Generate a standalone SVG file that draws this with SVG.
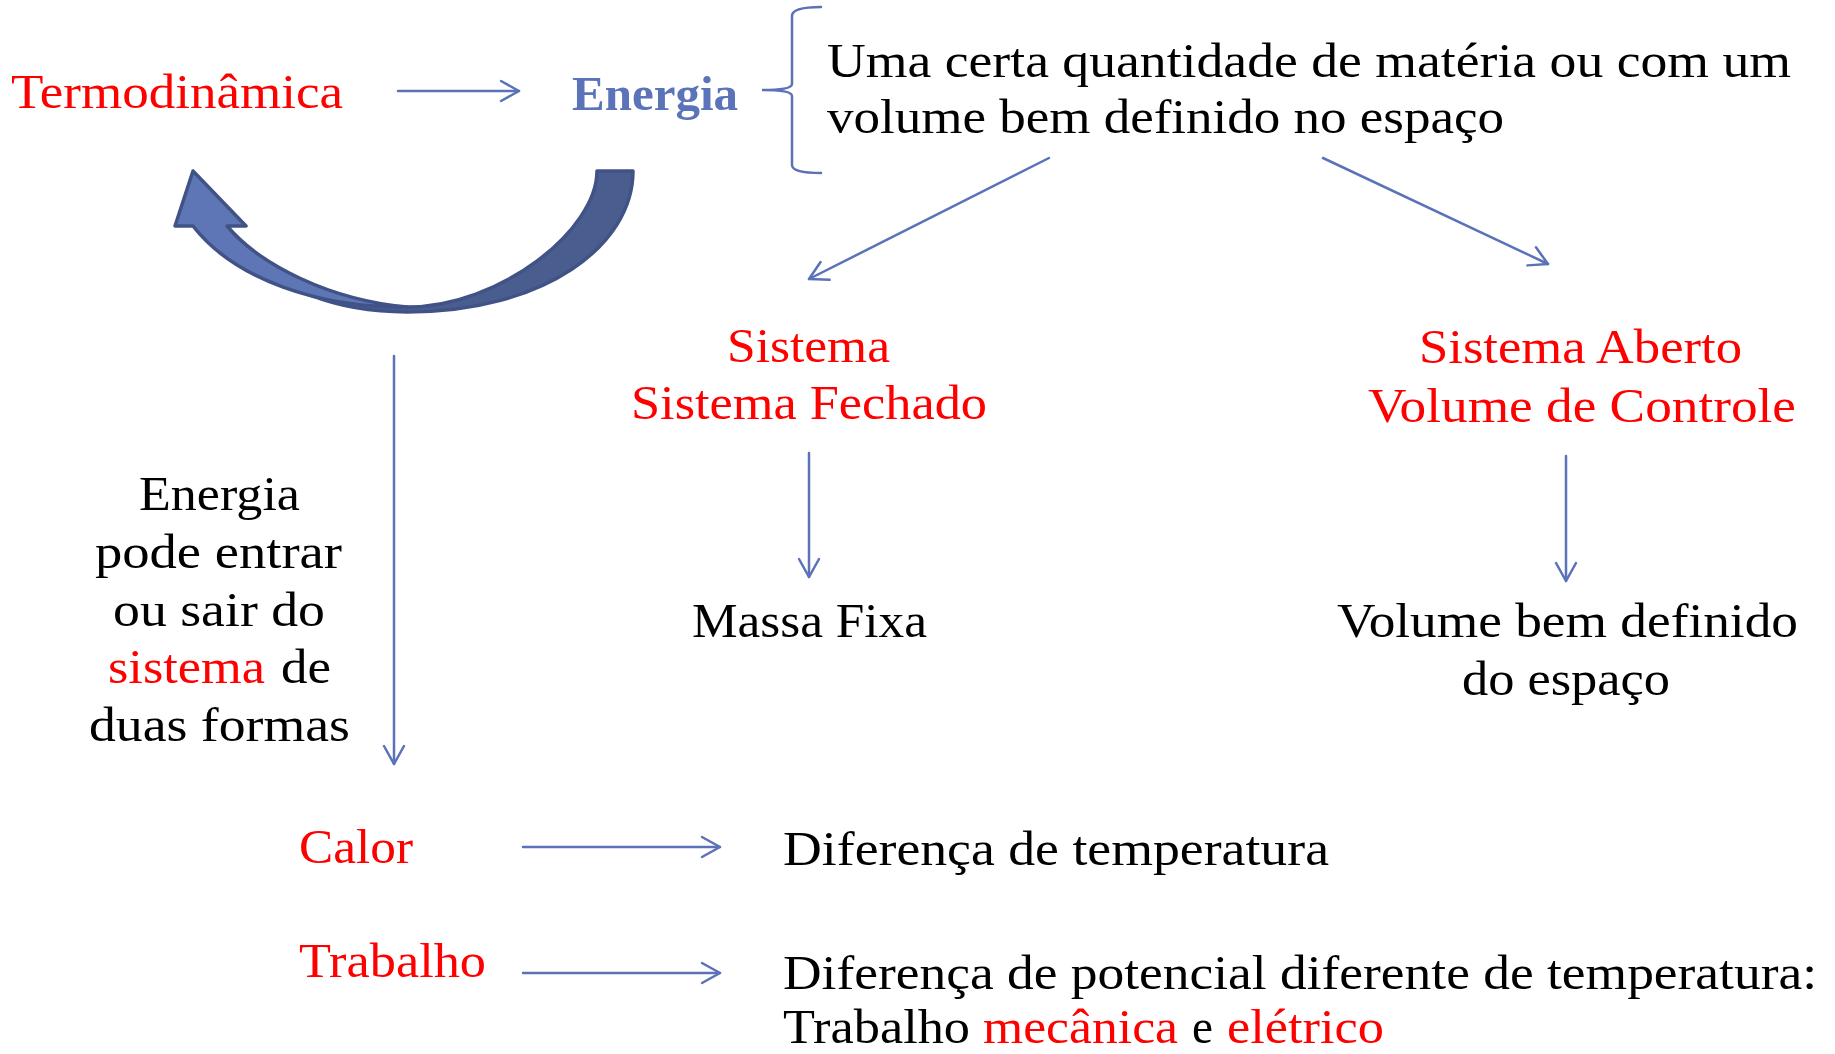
<svg xmlns="http://www.w3.org/2000/svg" width="1835" height="1054" viewBox="0 0 1835 1054">
<defs>
<style>
text{font-family:"Liberation Serif","Times New Roman",serif;font-size:49px;fill:#000}
.r{fill:#FF0000}
.b{fill:#5B73B8;font-weight:bold}
.ln{stroke:#5B72B8;stroke-width:2.5;fill:none;stroke-linecap:round}
</style>
<marker id="ah" viewBox="-20 -12 22 24" markerWidth="22" markerHeight="24" refX="0" refY="0" markerUnits="userSpaceOnUse" orient="auto">
<path d="M-18,-10 L0,0 L-18,10" fill="none" stroke="#5B72B8" stroke-width="2.5" stroke-linecap="round" stroke-linejoin="round"/>
</marker>
</defs>
<rect width="1835" height="1054" fill="#fff"/>

<g id="connectors">
<line class="ln" x1="398" y1="91" x2="519" y2="91" marker-end="url(#ah)"/>
<line class="ln" x1="1049" y1="158" x2="809" y2="279" marker-end="url(#ah)"/>
<line class="ln" x1="1323" y1="158" x2="1548" y2="264" marker-end="url(#ah)"/>
<line class="ln" x1="394" y1="356" x2="394" y2="764" marker-end="url(#ah)"/>
<line class="ln" x1="809" y1="453" x2="809" y2="577" marker-end="url(#ah)"/>
<line class="ln" x1="1566" y1="456" x2="1566" y2="581" marker-end="url(#ah)"/>
<line class="ln" x1="523" y1="847" x2="720" y2="847" marker-end="url(#ah)"/>
<line class="ln" x1="523" y1="973" x2="720" y2="973" marker-end="url(#ah)"/>
<path class="ln" d="M821,7 Q792,7 792,16 L792,84 Q792,90 762,90 Q792,90 792,96 L792,165 Q792,173 821,173"/>
</g>

<g id="curved-arrow">
<path d="M597,171 L633,171 C633,245 545,312 407,312 C365,312 335,305 310,295 C340,303 370,307 407,307 C500,307 597,230 597,171 Z" fill="#4A5D8F" stroke="#415386" stroke-width="3.5" stroke-linejoin="round"/>
<path d="M193,226 L175,226 L193,171 L246,226 L227,226 C260,265 330,300 407,307 C320,308 235,280 193,226 Z" fill="#5F76B6" stroke="#415386" stroke-width="3.5" stroke-linejoin="round"/>
</g>

<g id="termodinamica"><text class="r" x="11" y="108" textLength="332" lengthAdjust="spacingAndGlyphs">Termodinâmica</text></g>
<g id="energia"><text class="b" x="572" y="110" textLength="166" lengthAdjust="spacingAndGlyphs">Energia</text></g>
<g id="definicao">
<text x="827" y="77" textLength="964" lengthAdjust="spacingAndGlyphs">Uma certa quantidade de matéria ou com um</text>
<text x="827" y="133" textLength="677" lengthAdjust="spacingAndGlyphs">volume bem definido no espaço</text>
</g>
<g id="sistema-fechado">
<text class="r" x="727" y="362" textLength="163" lengthAdjust="spacingAndGlyphs">Sistema</text>
<text class="r" x="631" y="419" textLength="356" lengthAdjust="spacingAndGlyphs">Sistema Fechado</text>
</g>
<g id="sistema-aberto">
<text class="r" x="1419" y="363" textLength="323" lengthAdjust="spacingAndGlyphs">Sistema Aberto</text>
<text class="r" x="1368" y="422" textLength="428" lengthAdjust="spacingAndGlyphs">Volume de Controle</text>
</g>
<g id="massa-fixa"><text x="692" y="637" textLength="235" lengthAdjust="spacingAndGlyphs">Massa Fixa</text></g>
<g id="volume-definido">
<text x="1337" y="637" textLength="461" lengthAdjust="spacingAndGlyphs">Volume bem definido</text>
<text x="1462" y="695" textLength="208" lengthAdjust="spacingAndGlyphs">do espaço</text>
</g>
<g id="energia-formas">
<text x="139" y="510" textLength="161" lengthAdjust="spacingAndGlyphs">Energia</text>
<text x="95" y="568" textLength="247" lengthAdjust="spacingAndGlyphs">pode entrar</text>
<text x="113" y="626" textLength="212" lengthAdjust="spacingAndGlyphs">ou sair do</text>
<text class="r" x="108" y="683" textLength="157" lengthAdjust="spacingAndGlyphs">sistema</text>
<text x="281" y="683" textLength="50" lengthAdjust="spacingAndGlyphs">de</text>
<text x="89" y="741" textLength="261" lengthAdjust="spacingAndGlyphs">duas formas</text>
</g>
<g id="calor"><text class="r" x="299" y="863" textLength="114" lengthAdjust="spacingAndGlyphs">Calor</text></g>
<g id="trabalho"><text class="r" x="299" y="977" textLength="187" lengthAdjust="spacingAndGlyphs">Trabalho</text></g>
<g id="dif-temperatura"><text x="783" y="865" textLength="546" lengthAdjust="spacingAndGlyphs">Diferença de temperatura</text></g>
<g id="dif-potencial">
<text x="783" y="989" textLength="1034" lengthAdjust="spacingAndGlyphs">Diferença de potencial diferente de temperatura:</text>
<text x="783" y="1043" textLength="187" lengthAdjust="spacingAndGlyphs">Trabalho</text>
<text class="r" x="983" y="1043" textLength="195" lengthAdjust="spacingAndGlyphs">mecânica</text>
<text x="1192" y="1043" textLength="21" lengthAdjust="spacingAndGlyphs">e</text>
<text class="r" x="1227" y="1043" textLength="157" lengthAdjust="spacingAndGlyphs">elétrico</text>
</g>
</svg>
